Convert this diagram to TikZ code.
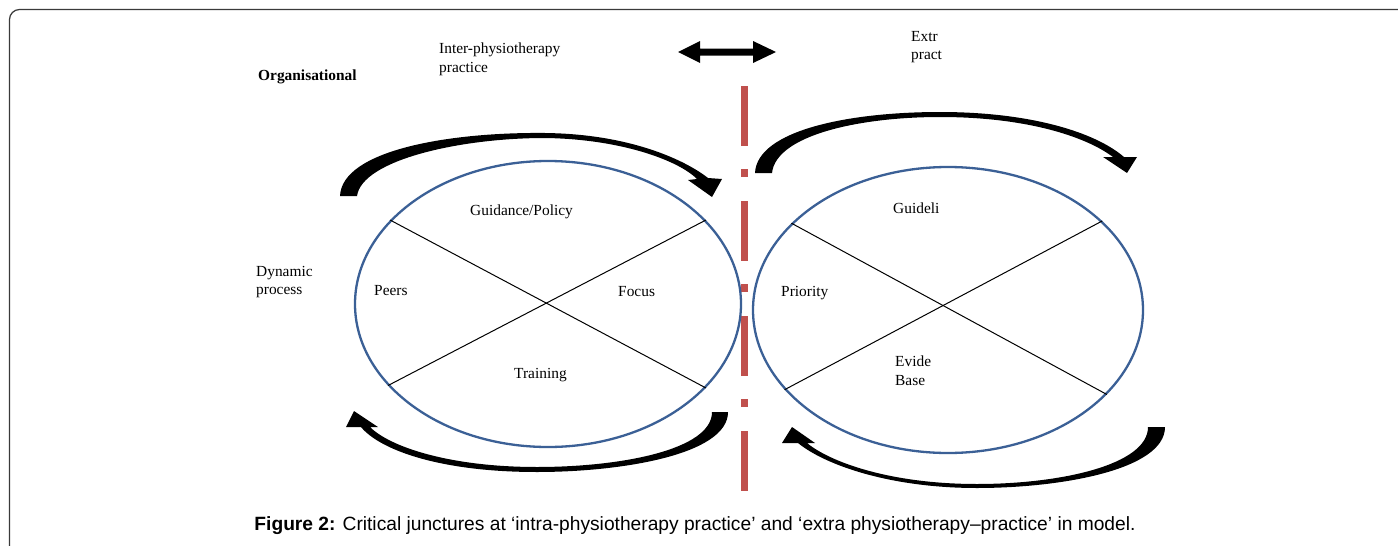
\documentclass[tikz,border=0pt]{standalone}
\usepackage{fontspec}
\setmainfont{Liberation Serif}
\newfontfamily\capfont{Liberation Sans}
\usetikzlibrary{shapes.geometric}
\definecolor{ellblue}{HTML}{3B6096}
\definecolor{jred}{HTML}{C0504D}
\definecolor{framecol}{HTML}{3A3A3A}
\begin{document}
\begin{tikzpicture}[x=1pt,y=-1pt,
  lbl/.style={inner sep=0pt, anchor=west, align=left, font=\fontsize{15.4}{18.5}\selectfont},
  ell/.style={draw=ellblue, line width=2.3pt, ellipse, inner sep=0pt},
  crossline/.style={draw=black, line width=1pt},
  bigarrow/.style={fill=black},
  redline/.style={draw=jred, line width=7pt, dash pattern=on 60pt off 23pt on 8pt off 24pt}]
\useasboundingbox (0,0) rectangle (1398,546);
\fill[white] (0,0) rectangle (1398,546);
% frame
\draw[framecol, line width=1.2pt, rounded corners=10pt] (9.5,546) -- (9.5,9.5) -- (1398,9.5);

% red divider
\coordinate (rtop) at (744,86);
\coordinate (rbot) at (744,492);
\draw[redline] (rtop) -- (rbot);

% ellipses
\node[ell, minimum width=386pt, minimum height=286pt] (L) at (548,304) {};
\node[ell, minimum width=390pt, minimum height=286pt] (R) at (948,310) {};
\draw[crossline] (L.152) -- (L.-28);
\draw[crossline] (L.207) -- (L.28);
\draw[crossline] (R.151) -- (R.-28);
\draw[crossline] (R.206) -- (R.30);

% curved arrows
\fill[bigarrow] (340,196) .. controls (342,150) and (450,132) .. (545,133)
  .. controls (630,134) and (685,160) .. (708,178) -- (722,179) -- (712,197) -- (688,180) -- (697,179)
  .. controls (678,160) and (620,139) .. (545,138)
  .. controls (460,138) and (362,160) .. (357,196) -- cycle;
\fill[bigarrow] (755,173) .. controls (757,130) and (850,112) .. (940,112)
  .. controls (1030,112) and (1095,132) .. (1124,157) -- (1137,157) -- (1127,173) -- (1103,157) -- (1113,157)
  .. controls (1085,136) and (1025,117) .. (940,117)
  .. controls (860,117) and (776,135) .. (772,173) -- cycle;
\fill[bigarrow] (728,412) .. controls (728,455) and (620,472) .. (537,472)
  .. controls (440,472) and (380,450) .. (361,427) -- (346,427) -- (354,411) -- (378,427) -- (370,427)
  .. controls (390,447) and (450,467) .. (537,467)
  .. controls (620,467) and (712,450) .. (712,412) -- cycle;
\fill[bigarrow] (1165,427) .. controls (1165,470) and (1060,488) .. (977,488)
  .. controls (890,488) and (825,465) .. (798,443) -- (782,443) -- (792,427) -- (815,443) -- (807,443)
  .. controls (830,462) and (890,484) .. (977,484)
  .. controls (1060,484) and (1148,465) .. (1148,427) -- cycle;

% double arrow
\fill[bigarrow] (678,52) -- (700,41) -- (700,48.5) -- (753,48.5) -- (753,41) -- (776,52)
  -- (753,63) -- (753,55.5) -- (700,55.5) -- (700,63) -- cycle;

% labels
\node[lbl, font=\fontsize{15.4}{18.5}\selectfont\bfseries] (org) at (258,77) {Organisational};
\node[lbl] (inter) at (439,59.5) {Inter-physiotherapy\\practice};
\node[lbl] (extra) at (911,47) {Extr\\pract};
\node[lbl] (dyn) at (256,282) {Dynamic\\process};
\node[lbl] (guid) at (470,212) {Guidance/Policy};
\node[lbl] (peers) at (374,291) {Peers};
\node[lbl] (focus) at (618,292) {Focus};
\node[lbl] (train) at (514,375) {Training};
\node[lbl] (guideli) at (893,208) {Guideli};
\node[lbl] (prio) at (781,293) {Priority};
\node[lbl] (evid) at (895,370.5) {Evide\\Base};

% caption
\node[inner sep=0pt, font=\capfont\fontsize{19.2}{22}\selectfont] (cap) at (695,526)
  {\textbf{Figure 2:} Critical junctures at ‘intra-physiotherapy practice’ and ‘extra physiotherapy–practice’ in model.};
\end{tikzpicture}
\end{document}
